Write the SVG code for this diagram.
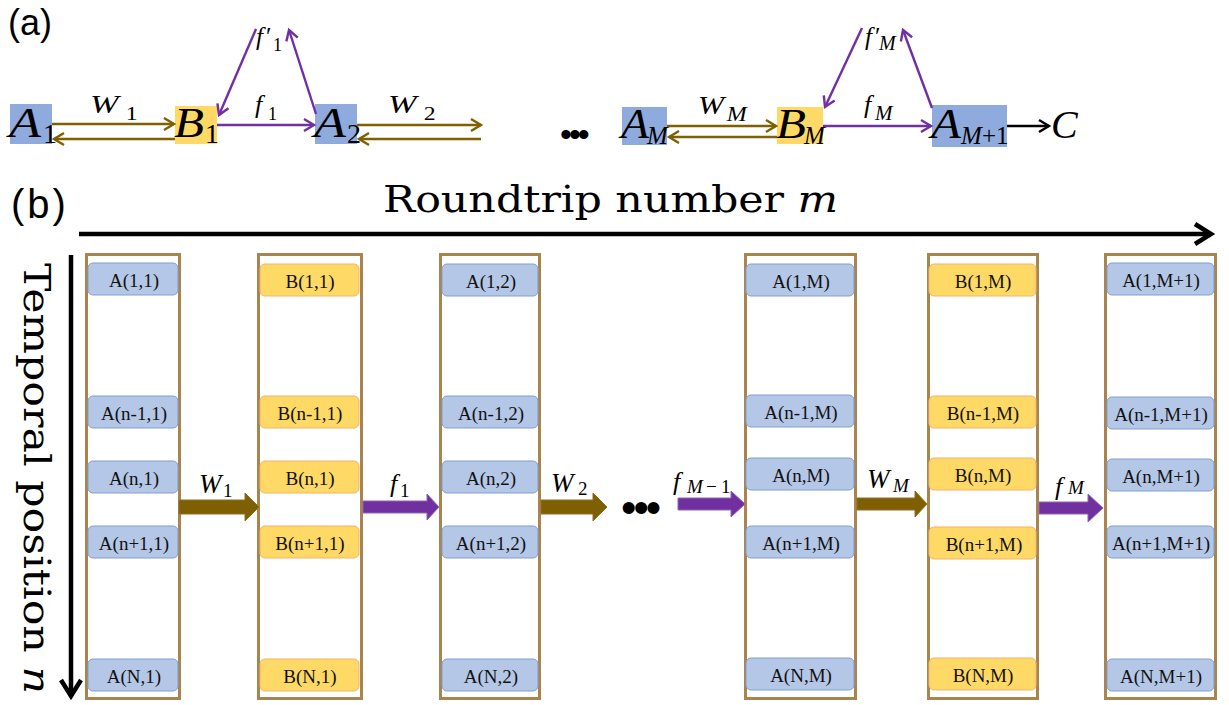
<svg xmlns="http://www.w3.org/2000/svg" width="1229" height="705" viewBox="0 0 1229 705">
  <style>
    .sans { font-family: 'Liberation Sans', Arial, sans-serif; fill: #000; }
    .rm { font-family: 'Liberation Serif', 'Times New Roman', serif; fill: #000; }
    .wide { font-family: 'DejaVu Serif', serif; fill: #000; }
    .it { font-style: italic; }
    .up { font-style: normal; }
    .cell { font-family: 'Liberation Serif', 'Times New Roman', serif; font-size: 19px; fill: #111; text-anchor: middle; }
    .boxA { fill: #8FAADC; }
    .boxB { fill: #FFD966; }
    .cellA { fill: #B4C7E7; stroke: #7F9FD3; stroke-width: 1; }
    .cellB { fill: #FFD966; stroke: #F2B36A; stroke-width: 1; }
    .frame { fill: none; stroke: #A8844F; stroke-width: 3; }
    .lnW { fill: none; stroke: #7F6000; stroke-width: 2.4; }
    .lnF { fill: none; stroke: #7030A0; stroke-width: 2.4; }
    .lnK { fill: none; stroke: #000; stroke-width: 2.4; }
    .axis { fill: none; stroke: #000; stroke-width: 4.5; }
    .blkW { fill: #7F6000; stroke: #8E6F2A; stroke-width: 1; }
    .blkF { fill: #7030A0; stroke: #9066B0; stroke-width: 1; }
  </style>
  <defs>
    <marker id="hW" markerUnits="userSpaceOnUse" markerWidth="16" markerHeight="16" viewBox="-13 -8 16 16" refX="0" refY="0" orient="auto" overflow="visible">
      <path d="M-10,-6 L0,0 L-10,6" fill="none" stroke="#7F6000" stroke-width="2.4"/>
    </marker>
    <marker id="hF" markerUnits="userSpaceOnUse" markerWidth="16" markerHeight="16" viewBox="-13 -8 16 16" refX="0" refY="0" orient="auto" overflow="visible">
      <path d="M-10,-6 L0,0 L-10,6" fill="none" stroke="#7030A0" stroke-width="2.4"/>
    </marker>
    <marker id="hK" markerUnits="userSpaceOnUse" markerWidth="16" markerHeight="16" viewBox="-13 -8 16 16" refX="0" refY="0" orient="auto" overflow="visible">
      <path d="M-10,-6 L0,0 L-10,6" fill="none" stroke="#000" stroke-width="2.4"/>
    </marker>
    <marker id="hAxis" markerUnits="userSpaceOnUse" markerWidth="26" markerHeight="28" viewBox="-20 -14 26 28" refX="0" refY="0" orient="auto" overflow="visible">
      <path d="M-16,-10 L0,0 L-16,10" fill="none" stroke="#000" stroke-width="4.5"/>
    </marker>
  </defs>

  <!-- panel labels -->
  <text class="sans" x="8" y="35" font-size="36">(a)</text>
  <text class="sans" x="11" y="218" font-size="40" letter-spacing="3">(b)</text>

  <!-- ===== (a) chain of modes ===== -->
  <g id="a-A1">
    <rect class="boxA" x="10" y="104" width="42" height="40"/>
    <text class="rm it" x="9" y="137" font-size="42" textLength="32" lengthAdjust="spacingAndGlyphs">A</text>
    <text class="rm" x="43" y="143" font-size="28">1</text>
  </g>
  <g id="a-B1">
    <rect class="boxB" x="175" y="106" width="42" height="38"/>
    <text class="rm it" x="174" y="137" font-size="42" textLength="30" lengthAdjust="spacingAndGlyphs">B</text>
    <text class="rm" x="205" y="143" font-size="28">1</text>
  </g>
  <g id="a-A2">
    <rect class="boxA" x="315" y="104" width="42" height="40"/>
    <text class="rm it" x="314" y="137" font-size="42" textLength="32" lengthAdjust="spacingAndGlyphs">A</text>
    <text class="rm" x="347" y="143" font-size="28">2</text>
  </g>
  <g id="a-f1p">
    <text class="rm it" x="256" y="45" font-size="25">f<tspan class="up" dx="3">′</tspan></text>
    <text class="rm" x="273" y="51" font-size="18">1</text>
  </g>
  <g id="a-dots">
    <text class="sans" x="560" y="146" font-size="34" letter-spacing="-3">•••</text>
  </g>
  <g id="a-AM">
    <rect class="boxA" x="622" y="107" width="45" height="38"/>
    <text class="rm it" x="621" y="138" font-size="42" textLength="28" lengthAdjust="spacingAndGlyphs">A</text>
    <text class="rm it" x="647" y="144" font-size="25">M</text>
  </g>
  <g id="a-BM">
    <rect class="boxB" x="777" y="107" width="46" height="37"/>
    <text class="rm it" x="776" y="138" font-size="42" textLength="30" lengthAdjust="spacingAndGlyphs">B</text>
    <text class="rm it" x="804" y="144" font-size="25">M</text>
  </g>
  <g id="a-AM1">
    <rect class="boxA" x="932" y="105" width="75" height="42"/>
    <text class="rm it" x="931" y="138" font-size="42" textLength="30" lengthAdjust="spacingAndGlyphs">A</text>
    <text class="rm it" x="961" y="144" font-size="25">M</text>
    <text class="rm" x="982" y="144" font-size="25">+</text>
    <text class="rm" x="996" y="144" font-size="25">1</text>
  </g>
  <g id="a-fMp">
    <text class="rm it" x="865" y="45" font-size="25">f<tspan class="up" dx="3">′</tspan></text>
    <text class="rm it" x="879" y="50" font-size="20">M</text>
  </g>
  <g id="a-C">
    <text class="rm it" x="1051" y="138" font-size="40">C</text>
  </g>

  <!-- (a) connectors -->
  <g id="a-connectors">
    <path class="lnW" d="M52,124 H174" marker-end="url(#hW)"/>
    <path class="lnW" d="M175,139 H54" marker-end="url(#hW)"/>
    <path class="lnF" d="M217,125 H314" marker-end="url(#hF)"/>
    <path class="lnF" d="M316,114 L289,30" marker-end="url(#hF)"/>
    <path class="lnF" d="M256,29 L219,115" marker-end="url(#hF)"/>
    <path class="lnW" d="M357,125 H481" marker-end="url(#hW)"/>
    <path class="lnW" d="M481,139 H359" marker-end="url(#hW)"/>
    <path class="lnW" d="M667,126 H776" marker-end="url(#hW)"/>
    <path class="lnW" d="M777,137 H669" marker-end="url(#hW)"/>
    <path class="lnF" d="M823,126 H931" marker-end="url(#hF)"/>
    <path class="lnF" d="M932,108 L903,30" marker-end="url(#hF)"/>
    <path class="lnF" d="M862,28 L825,107" marker-end="url(#hF)"/>
    <path class="lnK" d="M1007,126 H1049" marker-end="url(#hK)"/>

    <!-- coupling labels -->
    <g transform="translate(90,113) scale(1.32,1)">
      <text class="rm it" x="0" y="0" font-size="26">W</text>
      <text class="rm" x="27" y="7" font-size="18">1</text>
    </g>
    <text class="rm it" x="255" y="113" font-size="26">f</text>
    <text class="rm" x="268" y="120" font-size="18">1</text>
    <g transform="translate(388,113) scale(1.32,1)">
      <text class="rm it" x="0" y="0" font-size="26">W</text>
      <text class="rm" x="27" y="7" font-size="18">2</text>
    </g>
    <g transform="translate(698,114) scale(1.2,1)">
      <text class="rm it" x="0" y="0" font-size="26">W</text>
      <text class="rm it" x="24" y="7" font-size="20">M</text>
    </g>
    <text class="rm it" x="864" y="113" font-size="26">f</text>
    <text class="rm it" x="875" y="120" font-size="21">M</text>
  </g>

  <!-- ===== (b) lattice in roundtrip / temporal position ===== -->
  <g id="axes">
    <path class="axis" d="M79,234 H1211" marker-end="url(#hAxis)"/>
    <path class="axis" d="M71,255 V696" marker-end="url(#hAxis)"/>
    <text class="wide" x="383" y="212" font-size="38" textLength="455" lengthAdjust="spacingAndGlyphs">Roundtrip number <tspan class="it">m</tspan></text>
    <text class="wide" transform="translate(24,263) rotate(90)" x="0" y="0" font-size="38" textLength="431" lengthAdjust="spacingAndGlyphs">Temporal position <tspan class="it">n</tspan></text>
  </g>

  <!-- column 1: A(n,1) -->
  <g id="col-A1">
    <rect class="frame" x="86.5" y="254.5" width="93" height="444"/>
    <rect class="cellA" x="88" y="263" width="90" height="32" rx="5"/>
    <rect class="cellA" x="88" y="396" width="90" height="32" rx="5"/>
    <rect class="cellA" x="88" y="461" width="90" height="32" rx="5"/>
    <rect class="cellA" x="88" y="526" width="90" height="32" rx="5"/>
    <rect class="cellA" x="88" y="659" width="90" height="32" rx="5"/>
    <text class="cell" x="134" y="287">A(1,1)</text>
    <text class="cell" x="134" y="420">A(n-1,1)</text>
    <text class="cell" x="134" y="485">A(n,1)</text>
    <text class="cell" x="134" y="550">A(n+1,1)</text>
    <text class="cell" x="134" y="683">A(N,1)</text>
  </g>

  <!-- column 2: B(n,1) -->
  <g id="col-B1">
    <rect class="frame" x="258.5" y="254.5" width="103" height="444"/>
    <rect class="cellB" x="260" y="264" width="99" height="32" rx="5"/>
    <rect class="cellB" x="260" y="396" width="99" height="32" rx="5"/>
    <rect class="cellB" x="260" y="461" width="99" height="32" rx="5"/>
    <rect class="cellB" x="260" y="526" width="99" height="32" rx="5"/>
    <rect class="cellB" x="260" y="659" width="99" height="32" rx="5"/>
    <text class="cell" x="310" y="288">B(1,1)</text>
    <text class="cell" x="310" y="420">B(n-1,1)</text>
    <text class="cell" x="310" y="485">B(n,1)</text>
    <text class="cell" x="310" y="550">B(n+1,1)</text>
    <text class="cell" x="310" y="683">B(N,1)</text>
  </g>

  <!-- column 3: A(n,2) -->
  <g id="col-A2">
    <rect class="frame" x="440.5" y="254.5" width="99" height="444"/>
    <rect class="cellA" x="442" y="264" width="96" height="32" rx="5"/>
    <rect class="cellA" x="442" y="396" width="96" height="32" rx="5"/>
    <rect class="cellA" x="442" y="461" width="96" height="32" rx="5"/>
    <rect class="cellA" x="442" y="526" width="96" height="32" rx="5"/>
    <rect class="cellA" x="442" y="659" width="96" height="32" rx="5"/>
    <text class="cell" x="491" y="288">A(1,2)</text>
    <text class="cell" x="491" y="420">A(n-1,2)</text>
    <text class="cell" x="491" y="485">A(n,2)</text>
    <text class="cell" x="491" y="550">A(n+1,2)</text>
    <text class="cell" x="491" y="683">A(N,2)</text>
  </g>

  <!-- column 4: A(n,M) -->
  <g id="col-AM">
    <rect class="frame" x="745.5" y="254.5" width="110" height="444"/>
    <rect class="cellA" x="746" y="264" width="108" height="32" rx="5"/>
    <rect class="cellA" x="746" y="395" width="108" height="32" rx="5"/>
    <rect class="cellA" x="746" y="458" width="108" height="32" rx="5"/>
    <rect class="cellA" x="746" y="526" width="108" height="32" rx="5"/>
    <rect class="cellA" x="746" y="658" width="108" height="32" rx="5"/>
    <text class="cell" x="801" y="288">A(1,M)</text>
    <text class="cell" x="801" y="419">A(n-1,M)</text>
    <text class="cell" x="801" y="482">A(n,M)</text>
    <text class="cell" x="801" y="550">A(n+1,M)</text>
    <text class="cell" x="801" y="682">A(N,M)</text>
  </g>

  <!-- column 5: B(n,M) -->
  <g id="col-BM">
    <rect class="frame" x="928.5" y="254.5" width="109" height="444"/>
    <rect class="cellB" x="929" y="264" width="107" height="32" rx="5"/>
    <rect class="cellB" x="929" y="396" width="107" height="32" rx="5"/>
    <rect class="cellB" x="929" y="458" width="107" height="32" rx="5"/>
    <rect class="cellB" x="929" y="527" width="107" height="32" rx="5"/>
    <rect class="cellB" x="929" y="658" width="107" height="32" rx="5"/>
    <text class="cell" x="983" y="288">B(1,M)</text>
    <text class="cell" x="983" y="420">B(n-1,M)</text>
    <text class="cell" x="983" y="482">B(n,M)</text>
    <text class="cell" x="984" y="551">B(n+1,M)</text>
    <text class="cell" x="983" y="682">B(N,M)</text>
  </g>

  <!-- column 6: A(n,M+1) -->
  <g id="col-AM1">
    <rect class="frame" x="1105.5" y="254.5" width="110" height="444"/>
    <rect class="cellA" x="1107" y="263" width="107" height="32" rx="5"/>
    <rect class="cellA" x="1107" y="397" width="107" height="32" rx="5"/>
    <rect class="cellA" x="1107" y="459" width="107" height="32" rx="5"/>
    <rect class="cellA" x="1107" y="526" width="107" height="32" rx="5"/>
    <rect class="cellA" x="1107" y="659" width="107" height="32" rx="5"/>
    <text class="cell" x="1161" y="287">A(1,M+1)</text>
    <text class="cell" x="1161" y="421">A(n-1,M+1)</text>
    <text class="cell" x="1161" y="483">A(n,M+1)</text>
    <text class="cell" x="1161" y="550">A(n+1,M+1)</text>
    <text class="cell" x="1161" y="683">A(N,M+1)</text>
  </g>

  <!-- (b) block arrows between columns -->
  <g id="b-connectors">
    <path class="blkW" d="M179,500 H245 V493 L259,507 L245,521 V514 H179 Z"/>
    <path class="blkF" d="M363,501 H427 V494 L439,507 L427,520 V513 H363 Z"/>
    <path class="blkW" d="M541,500 H593 V493 L607,507 L593,521 V514 H541 Z"/>
    <path class="blkF" d="M678,498 H731 V491 L745,504 L731,517 V510 H678 Z"/>
    <path class="blkW" d="M857,498 H915 V491 L927,504 L915,517 V510 H857 Z"/>
    <path class="blkF" d="M1039,502 H1088 V494 L1103,508 L1088,522 V514 H1039 Z"/>
    <text class="sans" x="621" y="523" font-size="44" letter-spacing="-3">•••</text>

    <text class="rm it" x="199" y="493" font-size="27">W</text>
    <text class="rm" x="223" y="497" font-size="19">1</text>
    <text class="rm it" x="390" y="492" font-size="26">f</text>
    <text class="rm" x="400" y="497" font-size="19">1</text>
    <text class="rm it" x="551" y="492" font-size="27">W</text>
    <text class="rm" x="578" y="495" font-size="19">2</text>
    <text class="rm it" x="673" y="490" font-size="26">f</text>
    <text class="rm it" x="687" y="493" font-size="19">M</text>
    <text class="rm" x="706" y="493" font-size="19">−</text>
    <text class="rm" x="721" y="493" font-size="19">1</text>
    <text class="rm it" x="867" y="488" font-size="27">W</text>
    <text class="rm it" x="893" y="492" font-size="19">M</text>
    <text class="rm it" x="1055" y="495" font-size="26">f</text>
    <text class="rm it" x="1068" y="494" font-size="19">M</text>
  </g>
</svg>
